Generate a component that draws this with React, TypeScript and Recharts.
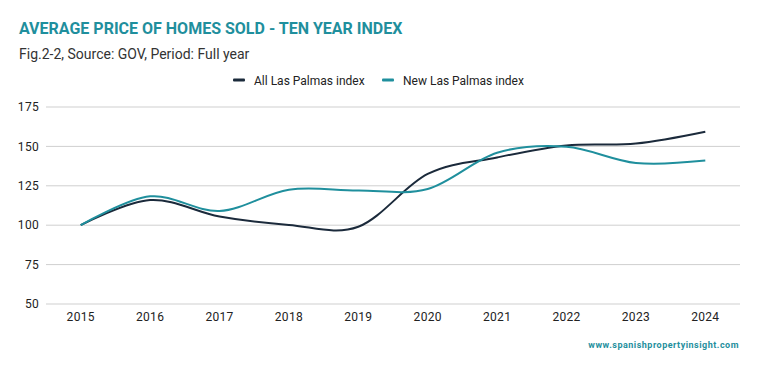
import React from "react";
import { LineChart, Line, XAxis, YAxis, CartesianGrid } from "recharts";

const years = ["2015", "2016", "2017", "2018", "2019", "2020", "2021", "2022", "2023", "2024"];
const allLasPalmas = [100, 116, 105.5, 100.2, 99, 132.5, 143, 150.6, 151.8, 159.3];
const newLasPalmas = [100, 118.3, 109, 122.5, 122, 123, 146, 149.8, 139.5, 141];
const yTicks = [50, 75, 100, 125, 150, 175];

const seriesNames = ["All Las Palmas index", "New Las Palmas index"];
const DARK = "#1b2a3b";
const TEAL = "#1f8f9d";

const data = years.map((y, i) => ({ year: y, all: allLasPalmas[i], nw: newLasPalmas[i] }));

const FONT = "Roboto, 'Noto Sans', sans-serif";

// Catmull-Rom style cardinal spline (tension 0), written as a d3-compatible curve factory
function smoothCurve(context: any) {
  const k = 1 / 6;
  const s: any = {
    _line: NaN,
    _point: 0,
    _x0: NaN, _x1: NaN, _x2: NaN, _y0: NaN, _y1: NaN, _y2: NaN,
  };
  const seg = (x: number, y: number) => {
    context.bezierCurveTo(
      s._x1 + k * (s._x2 - s._x0),
      s._y1 + k * (s._y2 - s._y0),
      s._x2 + k * (s._x1 - x),
      s._y2 + k * (s._y1 - y),
      s._x2,
      s._y2
    );
  };
  s.areaStart = () => { s._line = 0; };
  s.areaEnd = () => { s._line = NaN; };
  s.lineStart = () => {
    s._x0 = s._x1 = s._x2 = s._y0 = s._y1 = s._y2 = NaN;
    s._point = 0;
  };
  s.lineEnd = () => {
    switch (s._point) {
      case 2: context.lineTo(s._x2, s._y2); break;
      case 3: seg(s._x1, s._y1); break;
    }
    if (s._line || (s._line !== 0 && s._point === 1)) context.closePath();
    s._line = 1 - s._line;
  };
  s.point = (x: number, y: number) => {
    x = +x; y = +y;
    switch (s._point) {
      case 0: s._point = 1; s._line ? context.lineTo(x, y) : context.moveTo(x, y); break;
      case 1: s._point = 2; s._x1 = x; s._y1 = y; break;
      case 2: s._point = 3; seg(x, y); break;
      default: seg(x, y); break;
    }
    s._x0 = s._x1; s._x1 = s._x2; s._x2 = x;
    s._y0 = s._y1; s._y1 = s._y2; s._y2 = y;
  };
  return s;
}

export default function App() {
  return (
    <div style={{ position: "absolute", left: 0, top: 0, width: 759, height: 371, background: "#fff", fontFamily: FONT }}>
      <LineChart
        width={759}
        height={371}
        data={data}
        margin={{ top: 107, right: 19, bottom: 37, left: 0 }}
      >
        <CartesianGrid vertical={false} stroke="#cfcfcf" strokeWidth={1} />
        <XAxis
          dataKey="year"
          axisLine={false}
          tickLine={false}
          tickMargin={2}
          height={30}
          padding={{ left: 34.7, right: 34.7 }}
          tick={{ fill: "#222", fontSize: 12, fontFamily: FONT, letterSpacing: 0.3 }}
          interval={0}
        />
        <YAxis
          domain={[50, 175]}
          ticks={yTicks}
          axisLine={false}
          tickLine={false}
          tickMargin={1}
          width={46}
          tick={{ fill: "#222", fontSize: 12, fontFamily: FONT, letterSpacing: 0.3 }}
          interval={0}
        />
        <Line type={smoothCurve as any} dataKey="all" name={seriesNames[0]} stroke={DARK} strokeWidth={2} dot={false} isAnimationActive={false} />
        <Line type={smoothCurve as any} dataKey="nw" name={seriesNames[1]} stroke={TEAL} strokeWidth={2} dot={false} isAnimationActive={false} />
      </LineChart>
      <svg width={759} height={371} style={{ position: "absolute", left: 0, top: 0, pointerEvents: "none" }}>
        <text x={19} y={34} fill={TEAL} fontSize={16} fontWeight={700} fontFamily={FONT}>
          AVERAGE PRICE OF HOMES SOLD - TEN YEAR INDEX
        </text>
        <text x={19} y={59} fill="#333" fontSize={14} fontFamily={FONT}>
          Fig.2-2, Source: GOV, Period: Full year
        </text>
        <rect x={233} y={78.5} width={12} height={3} rx={1} fill={DARK} />
        <text x={254} y={85} fill="#222" fontSize={12} fontFamily={FONT}>{seriesNames[0]}</text>
        <rect x={382} y={78.5} width={12} height={3} rx={1} fill={TEAL} />
        <text x={403} y={85} fill="#222" fontSize={12} fontFamily={FONT}>{seriesNames[1]}</text>
        <text x={739} y={348} textAnchor="end" fill={TEAL} fontSize={9} fontWeight={700} letterSpacing={0.5} fontFamily={FONT}>
          www.spanishpropertyinsight.com
        </text>
      </svg>
    </div>
  );
}
